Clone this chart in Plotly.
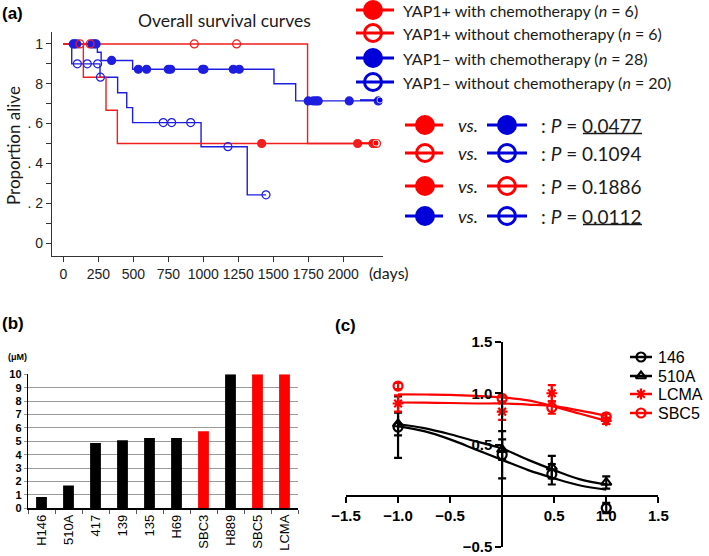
import plotly.graph_objects as go

W, H = 709, 556
RED = "#f01e1e"
BLUE = "#1e1ee0"
LRED = "#ff0000"
LBLUE = "#0000d8"

# ---------------- Panel (a): Kaplan-Meier data (days, proportion alive) ----------------
km_red_chemo_t = [0, 143, 305, 386, 2219]
km_red_chemo_s = [1.0, 0.833, 0.667, 0.5, 0.5]
km_red_chemo_cens = [1417, 2103, 2212, 2219]

km_red_nochemo_t = [0, 1745, 2238]
km_red_nochemo_s = [1.0, 0.5, 0.5]
km_red_nochemo_cens = [119, 191, 936, 1238, 2238]

km_blue_chemo_t = [0, 243, 270, 495, 1505, 1660, 2250]
km_blue_chemo_s = [1.0, 0.958, 0.917, 0.873, 0.8, 0.714, 0.714]
km_blue_chemo_cens = [71, 80, 96, 203, 220, 234, 345, 536, 595, 750, 767, 995, 1005,
                      1214, 1257, 1750, 1786, 1805, 1821, 2043, 2250]

km_blue_nochemo_t = [0, 60, 262, 388, 453, 495, 984, 1314, 1448]
km_blue_nochemo_s = [1.0, 0.9, 0.833, 0.755, 0.68, 0.605, 0.484, 0.242, 0.242]
km_blue_nochemo_cens = [100, 171, 245, 265, 714, 774, 910, 1176, 1448]

km_xticks = [0, 250, 500, 750, 1000, 1250, 1500, 1750, 2000]
km_yticks = [0, 0.1, 0.2, 0.3, 0.4, 0.5, 0.6, 0.7, 0.8, 0.9, 1.0]
km_yticklabels = ["0", "", ". 2", "", ". 4", "", ". 6", "", "8", "", "1"]

legA_labels = ["YAP1+ with chemotherapy (<i>n</i> = 6)",
               "YAP1+ without chemotherapy (<i>n</i> = 6)",
               "YAP1\u2013 with chemotherapy (<i>n</i> = 28)",
               "YAP1\u2013 without chemotherapy (<i>n</i> = 20)"]
legA_colors = [LRED, LRED, LBLUE, LBLUE]
legA_filled = [True, False, True, False]

p_left_colors = [LRED, LRED, LRED, LBLUE]
p_left_filled = [True, False, True, True]
p_right_colors = [LBLUE, LBLUE, LRED, LBLUE]
p_right_filled = [True, False, False, False]
p_values = ["0.0477", "0.1094", "0.1886", "0.0112"]
p_underlined = [True, False, False, True]

# ---------------- Panel (b): IC50 bar data ----------------
cell_lines = ["H146", "510A", "417", "139", "135", "H69", "SBC3", "H889", "SBC5", "LCMA"]
ic50_um = [0.85, 1.7, 4.88, 5.07, 5.25, 5.25, 5.75, 10, 10, 10]
yap1_pos = [False, False, False, False, False, False, True, False, True, True]

# ---------------- Panel (c): dose-response data ----------------
log_dose = [-1.0, 0.0, 0.477, 1.0]
via_146 = [0.67, 0.40, 0.21, -0.12]
err_146 = [0.30, 0.23, 0.10, 0.05]
via_510A = [0.70, 0.45, 0.28, 0.13]
err_510A = [0.11, 0.10, 0.11, 0.06]
via_LCMA = [0.90, 0.82, 1.00, 0.73]
err_LCMA = [0.08, 0.08, 0.08, 0.03]
via_SBC5 = [1.07, 0.95, 0.86, 0.77]
err_SBC5 = [0.03, 0.03, 0.06, 0.03]

fit_x = [-1.0, -0.75, -0.5, -0.25, 0.0, 0.25, 0.5, 0.75, 1.0]
fit_146 = [0.68, 0.63, 0.55, 0.45, 0.35, 0.25, 0.17, 0.10, 0.06]
fit_510A = [0.70, 0.66, 0.60, 0.53, 0.46, 0.35, 0.25, 0.16, 0.11]
fit_LCMA = [0.91, 0.908, 0.905, 0.90, 0.90, 0.89, 0.875, 0.83, 0.78]
fit_SBC5 = [0.99, 0.988, 0.985, 0.975, 0.96, 0.93, 0.87, 0.80, 0.73]

legC_labels = ["146", "510A", "LCMA", "SBC5"]
legC_colors = ["black", "black", LRED, LRED]
legC_symbols = ["circle-open", "triangle-up-open", "asterisk-open", "circle-open"]


def surv_at(times, surv, t):
    s = surv[0]
    for ti, si in zip(times, surv):
        if ti <= t:
            s = si
    return s


fig = go.Figure()

# ---- Panel (a) traces
curves = [
    (km_blue_chemo_t, km_blue_chemo_s, km_blue_chemo_cens, BLUE, True),
    (km_blue_nochemo_t, km_blue_nochemo_s, km_blue_nochemo_cens, BLUE, False),
    (km_red_chemo_t, km_red_chemo_s, km_red_chemo_cens, RED, True),
    (km_red_nochemo_t, km_red_nochemo_s, km_red_nochemo_cens, RED, False),
]
for t, s, cens, col, filled in curves:
    fig.add_trace(go.Scatter(x=t, y=s, mode="lines", line=dict(shape="hv", color=col, width=1.4),
                             xaxis="x", yaxis="y", hoverinfo="skip"))
for t, s, cens, col, filled in curves:
    fig.add_trace(go.Scatter(
        x=cens, y=[surv_at(t, s, c) for c in cens], mode="markers",
        marker=dict(symbol="circle" if filled else "circle-open", size=8,
                    color=col, line=dict(width=1.2, color=col)),
        xaxis="x", yaxis="y", hoverinfo="skip"))

# ---- Panel (b) bars
fig.add_trace(go.Bar(x=cell_lines, y=ic50_um, width=0.4,
                     marker=dict(color=[LRED if p else "black" for p in yap1_pos], line=dict(width=0)),
                     xaxis="x2", yaxis="y2", hoverinfo="skip"))

# ---- Panel (c) fits and points
for fy, col in [(fit_146, "black"), (fit_510A, "black"), (fit_LCMA, LRED), (fit_SBC5, LRED)]:
    fig.add_trace(go.Scatter(x=fit_x, y=fy, mode="lines", line=dict(shape="spline", color=col, width=2.2),
                             xaxis="x3", yaxis="y3", hoverinfo="skip"))
for vy, ey, col, sym in [(via_146, err_146, "black", "circle-open"),
                         (via_510A, err_510A, "black", "triangle-up-open"),
                         (via_LCMA, err_LCMA, LRED, "asterisk-open"),
                         (via_SBC5, err_SBC5, LRED, "circle-open")]:
    fig.add_trace(go.Scatter(x=log_dose, y=vy, mode="markers",
                             marker=dict(symbol=sym, size=9, color=col, line=dict(width=2.2, color=col)),
                             error_y=dict(type="data", array=ey, color=col, thickness=2.2, width=4),
                             xaxis="x3", yaxis="y3", hoverinfo="skip"))


# ---- Legend glyphs on a full-figure pixel overlay axis (x9/y9)
def glyph(x0, x1, xm, y, col, sym, size, lw, mlw):
    fig.add_trace(go.Scatter(x=[x0, x1], y=[y, y], mode="lines", line=dict(color=col, width=lw),
                             xaxis="x9", yaxis="y9", hoverinfo="skip"))
    fig.add_trace(go.Scatter(x=[xm], y=[y], mode="markers",
                             marker=dict(symbol=sym, size=size, color=col,
                                         line=dict(width=mlw, color=col)),
                             xaxis="x9", yaxis="y9", hoverinfo="skip"))


legA_y = [10, 33, 58, 82]
for y, col, filled in zip(legA_y, legA_colors, legA_filled):
    glyph(356, 394, 373, y, col, "circle" if filled else "circle-open", 17, 3, 3)

p_y = [125, 153, 186, 216]
for i, y in enumerate(p_y):
    glyph(405, 443, 425, y, p_left_colors[i], "circle" if p_left_filled[i] else "circle-open", 17, 3, 3)
    glyph(487, 527, 507, y, p_right_colors[i], "circle" if p_right_filled[i] else "circle-open", 17, 3, 3)

# small clipped glyph fragments at the left edge
fig.add_trace(go.Scatter(x=[360, 380], y=[100, 100], mode="lines+markers",
                         line=dict(color=LBLUE, width=1.5),
                         marker=dict(size=[0, 6], color=LBLUE), xaxis="x9", yaxis="y9", hoverinfo="skip"))
fig.add_trace(go.Scatter(x=[360, 376], y=[143, 143], mode="lines+markers",
                         line=dict(color=LRED, width=1.5),
                         marker=dict(size=[0, 6], color=LRED), xaxis="x9", yaxis="y9", hoverinfo="skip"))

legC_y = [357, 376, 394, 413]
for y, col, sym in zip(legC_y, legC_colors, legC_symbols):
    glyph(630, 652, 641, y, col, sym, 9, 2.5, 2.2)

# ---------------- Layout ----------------
ann = []
font_a = "Lato, Open Sans, sans-serif"
arial = "Liberation Sans, Arial, sans-serif"


def A(x, y, text, size, family=font_a, xanchor="left", color="#1a1a1a", angle=0):
    ann.append(dict(x=x, y=y, xref="x9", yref="y9", text=text, showarrow=False,
                    xanchor=xanchor, yanchor="middle", textangle=angle,
                    font=dict(size=size, family=family, color=color)))


A(0, 13, "<b>(a)</b>", 17, arial, color="black")
A(224, 20, "Overall survival curves", 17.5, font_a, "center")
A(13, 146, "Proportion alive", 17, font_a, "center", angle=-90)
A(367, 272, "(days)", 16, font_a)
for y, lab in zip(legA_y, legA_labels):
    A(401, y, lab, 16)
for y, pv in zip(p_y, p_values):
    A(468, y, "<i>vs.</i>", 18, font_a, "center")
    A(539, y, ": <i>P</i> = " + pv, 19)

A(0, 323, "<b>(b)</b>", 17, arial, color="black")
A(17, 357, "<b>(\u03bcM)</b>", 9, arial, "center", color="black")

A(333, 325, "<b>(c)</b>", 17, arial, color="black")
for y, lab in zip(legC_y, legC_labels):
    A(656, y, lab, 16, arial, color="black")

shapes = []
for y, u in zip(p_y, p_underlined):
    if u:
        shapes.append(dict(type="line", xref="x9", yref="y9", x0=583, x1=642, y0=y + 8.5, y1=y + 8.5,
                           line=dict(color="#1a1a1a", width=1.5)))

narrow = "Liberation Sans Narrow, Liberation Sans, sans-serif"

fig.update_layout(
    width=W, height=H, margin=dict(l=0, r=0, t=0, b=0, pad=0, autoexpand=False),
    paper_bgcolor="white", plot_bgcolor="rgba(0,0,0,0)", showlegend=False,
    annotations=ann, shapes=shapes,
    # panel (a)
    xaxis=dict(domain=[52 / W, 383 / W], range=[-81, 2284], anchor="y",
               tickvals=km_xticks, ticks="outside", ticklen=5, tickcolor="#333",
               showline=True, linecolor="#333", linewidth=1.2, showgrid=False, zeroline=False,
               tickfont=dict(family=narrow, size=14, color="#222")),
    yaxis=dict(domain=[1 - 256 / H, 1 - 32 / H], range=[-0.065, 1.06], anchor="x",
               tickvals=km_yticks, ticktext=km_yticklabels, ticks="outside", ticklen=5, tickcolor="#333",
               showline=True, linecolor="#333", linewidth=1.2, showgrid=False, zeroline=False,
               tickfont=dict(family=narrow, size=14, color="#222")),
    # panel (b)
    xaxis2=dict(domain=[28 / W, 298 / W], anchor="y2", type="category",
                tickangle=-90, ticks="outside", tickson="boundaries", ticklen=4, tickcolor="#555",
                showline=True, linecolor="black", linewidth=1.2, showgrid=False,
                tickfont=dict(family=arial, size=13, color="black")),
    yaxis2=dict(domain=[1 - 508.3 / H, 1 - 374.3 / H], range=[0, 10], anchor="x2", dtick=1,
                showgrid=True, gridcolor="#9a9a9a", gridwidth=1, ticks="outside", ticklen=3,
                tickcolor="#9a9a9a", showline=True, linecolor="black", linewidth=1.2, zeroline=False,
                tickfont=dict(family=arial, size=11, color="black", weight="bold")),
    # panel (c)
    xaxis3=dict(domain=[346 / W, 658.3 / W], range=[-1.5, 1.5], anchor="free", position=1 - 495.8 / H,
                tickvals=[-1.5, -1.0, -0.5, 0.5, 1.0, 1.5],
                ticktext=["\u22121.5", "\u22121.0", "\u22120.5", "0.5", "1.0", "1.5"],
                ticks="outside", ticklen=6, tickwidth=2, tickcolor="black",
                showline=True, linecolor="black", linewidth=2, showgrid=False, zeroline=False,
                tickfont=dict(family=arial, size=15, color="black", weight="bold")),
    yaxis3=dict(domain=[1 - 547 / H, 1 - 342 / H], range=[-0.5, 1.5], anchor="free",
                position=502.3 / W, tickvals=[-0.5, 0.5, 1.0, 1.5],
                ticktext=["\u22120.5", "0.5", "1.0", "1.5"],
                ticks="outside", ticklen=6, tickwidth=2, tickcolor="black",
                showline=True, linecolor="black", linewidth=2, showgrid=False, zeroline=False,
                tickfont=dict(family=arial, size=15, color="black", weight="bold")),
    # overlay in pixel units
    xaxis9=dict(domain=[0, 1], range=[0, W], anchor="y9", visible=False, fixedrange=True),
    yaxis9=dict(domain=[0, 1], range=[H, 0], anchor="x9", visible=False, fixedrange=True),
)

fig.write_html("out.html", config={"displayModeBar": False, "staticPlot": True},
               post_script="document.body.style.margin='0';document.body.style.overflow='hidden';")
